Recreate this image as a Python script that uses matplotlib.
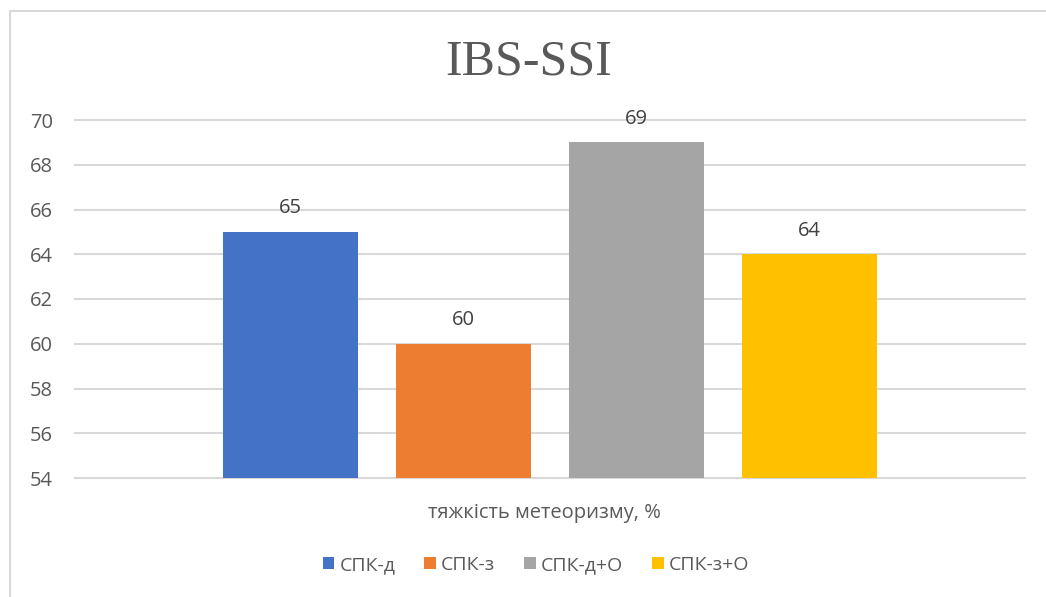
import matplotlib.pyplot as plt
from matplotlib.patches import Rectangle

# значення тяжкості метеоризму по групах
groups = ["СПК-д", "СПК-з", "СПК-д+О", "СПК-з+О"]
values = [65, 60, 69, 64]
colors = ["#4472C4", "#ED7D31", "#A5A5A5", "#FFC000"]
yticks = [54, 56, 58, 60, 62, 64, 66, 68, 70]

plt.rcParams['font.family'] = ['Open Sans', 'DejaVu Sans']
text_col = "#595959"

W, H = 1046, 597
fig = plt.figure(figsize=(W / 100, H / 100), dpi=100)
ax = fig.add_axes([75 / W, 1 - 478 / H, 950 / W, 358 / H])

offsets = [-1.5, -0.5, 0.5, 1.5]
for x, v, c, g in zip(offsets, values, colors, groups):
    ax.bar(x, v - 54, bottom=54, width=0.78, color=c, label=g, zorder=3)
    ax.text(x, v + 0.6, str(v), ha='center', va='bottom', fontsize=14.5, color="#404040")

ax.set_xlim(-2.745, 2.745)
ax.set_ylim(54, 70)
ax.set_yticks(yticks)
ax.set_xticks([])
ax.tick_params(axis='y', length=0, labelsize=14.5, labelcolor=text_col, pad=16)
ax.grid(axis='y', color="#D9D9D9", linewidth=1.5, zorder=0)
for gl in ax.get_ygridlines():
    gl.set_clip_on(False)
for s in ax.spines.values():
    s.set_visible(False)

fig.text(529 / W, 1 - 62 / H, "IBS-SSI", ha='center', va='center', fontsize=36,
         family=['Liberation Serif'], color=text_col)
fig.text(544 / W, 1 - 513 / H, "тяжкість метеоризму, %", ha='center', va='center',
         fontsize=14.5, color=text_col)

leg = fig.legend(loc='center', bbox_to_anchor=(536 / W, 1 - 565 / H), ncol=4,
                 frameon=False, fontsize=14, handlelength=0.6, handleheight=0.6,
                 handletextpad=0.25, columnspacing=1.5)
for t in leg.get_texts():
    t.set_color(text_col)

# рамка області діаграми
fig.patches.append(Rectangle((10 / W, -0.1), 1.2, 1 - 11 / H + 0.1, transform=fig.transFigure,
                             fill=False, edgecolor="#D9D9D9", linewidth=1.5))

fig.savefig("out.png", dpi=100)
